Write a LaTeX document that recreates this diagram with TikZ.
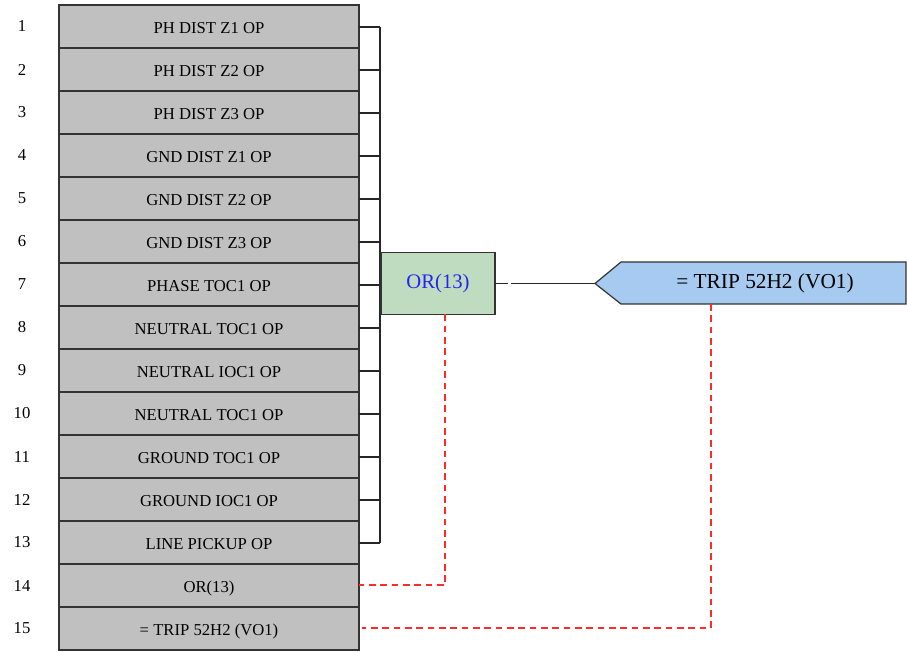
\documentclass[tikz,border=0pt]{standalone}
\usepackage{fontspec}
\setmainfont{Liberation Serif}
\definecolor{boxgray}{HTML}{C0C0C0}
\definecolor{orgreen}{HTML}{C0DCC0}
\definecolor{tripblue}{HTML}{A6CAF0}
\definecolor{txtblue}{HTML}{2424F0}
\definecolor{dashred}{HTML}{FF2a2a}
\begin{document}
\begin{tikzpicture}[x=0.75pt,y=-0.75pt,
  rowbox/.style={draw=black!80, line width=0.9pt, fill=boxgray, minimum width=225pt,
    minimum height=32.25pt, inner sep=0pt, outer sep=0pt, anchor=north west,
    text height=11pt, text depth=0pt,
    font=\fontsize{12.5}{14}\selectfont},
  numlbl/.style={inner sep=0pt, font=\fontsize{12.5}{14}\selectfont},
  wire/.style={draw=black!85, line width=0.9pt},
  reddash/.style={draw=dashred, line width=1.1pt, dash pattern=on 5pt off 3.5pt},
  orbox/.style={draw=black!80, line width=0.9pt, fill=orgreen, minimum width=85.5pt,
    minimum height=46.5pt, inner sep=0pt, outer sep=0pt, text=txtblue,
    font=\fontsize{15.5}{17}\selectfont},
  tripbox/.style={minimum width=213.75pt, minimum height=31.5pt, inner sep=0pt, outer sep=0pt,
    font=\fontsize{16}{18}\selectfont}
]
\useasboundingbox (0,0) rectangle (907,652);

\foreach \i/\t in {1/{PH DIST Z1 OP},2/{PH DIST Z2 OP},3/{PH DIST Z3 OP},
  4/{GND DIST Z1 OP},5/{GND DIST Z2 OP},6/{GND DIST Z3 OP},7/{PHASE TOC1 OP},
  8/{NEUTRAL TOC1 OP},9/{NEUTRAL IOC1 OP},10/{NEUTRAL TOC1 OP},11/{GROUND TOC1 OP},
  12/{GROUND IOC1 OP},13/{LINE PICKUP OP},14/{OR(13)},15/{= TRIP 52H2 (VO1)}}{
  \node[rowbox] (r\i) at (59,{5+43*(\i-1)}) {\t};
  \node[numlbl] (n\i) at (22,{26.5+43*(\i-1)}) {\i};
}

% bus
\foreach \i in {1,...,13}{
  \coordinate (bus\i) at (380,{27+43*(\i-1)});
  \draw[wire] (bus\i -| r\i.east) -- (bus\i);
}
\draw[wire] (bus1) -- (bus13);

% OR box
\node[orbox] (or) at (438,283.5) {OR(13)};

% TRIP output
\filldraw[draw=black!80, line width=0.9pt, fill=tripblue]
  (595,283.5) -- (621,262) -- (906,262) -- (906,304) -- (621,304) -- cycle;
\coordinate (tripL) at (595,283.5);
\node[tripbox] (trip) at (765,283) {= TRIP 52H2 (VO1)};

\draw[wire] (or.east) -- ([xshift=9.5pt]or.east);
\draw[wire] ([xshift=12pt]or.east) -- (tripL);

% dashed links
\coordinate (d1) at (445,585);
\draw[reddash] (or.south -| d1) -- (d1) -- (d1 -| r14.east);
\coordinate (d2) at (711,628);
\draw[reddash] (d2 |- trip.south) -- (d2) -- ([xshift=2pt]d2 -| r15.east);
\end{tikzpicture}
\end{document}
